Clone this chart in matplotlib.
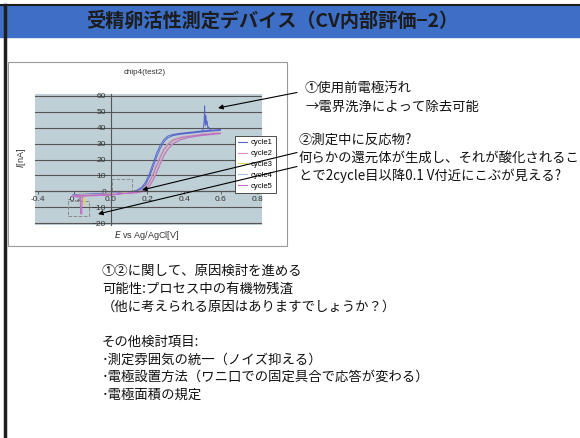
import matplotlib.pyplot as plt
from matplotlib.patches import Rectangle
from matplotlib.lines import Line2D

plt.rcParams['font.family'] = ['Noto Sans CJK JP', 'DejaVu Sans']

# --- CV data (E in V vs Ag/AgCl, I in nA) ---
e_fwd = [-0.21, -0.18, -0.15, -0.10, -0.05, 0.00, 0.05, 0.10, 0.14, 0.17, 0.19, 0.21,
         0.23, 0.25, 0.27, 0.29, 0.31, 0.34, 0.38, 0.42, 0.46, 0.50, 0.55, 0.60]
e_rev = e_fwd[::-1]

i_fwd_c1 = [-2.6, -2.4, -2.2, -2.0, -1.8, -1.6, -1.3, -0.9, 0.0, 1.8, 4.5, 9.0,
            15.0, 21.5, 27.0, 31.0, 33.5, 35.0, 35.8, 36.3, 36.8, 37.3, 37.8, 38.3]
i_rev_c1 = [38.8, 38.3, 37.9, 37.4, 36.9, 36.4, 35.7, 34.6, 32.5, 29.0, 24.0, 17.5,
            11.0, 6.0, 2.8, 0.6, -0.5, -0.9, -1.1, -1.3, -1.5, -1.7, -1.9, -2.1]

i_fwd_c2 = [-3.0, -2.8, -2.6, -2.4, -2.2, -2.0, -1.2, -0.6, -0.6, 0.2, 1.5, 4.0,
            8.0, 13.0, 18.5, 23.5, 27.0, 30.5, 32.8, 34.0, 34.8, 35.4, 36.0, 36.6]
i_rev_c2 = [37.0, 36.5, 36.0, 35.4, 34.8, 34.0, 32.6, 30.0, 27.0, 22.5, 17.0, 11.5,
            6.5, 3.0, 1.0, -0.2, -0.8, -1.2, -1.5, -1.7, -1.9, -2.1, -2.3, -2.5]

i_fwd_c3 = [-3.1, -2.9, -2.7, -2.5, -2.3, -2.1, -1.3, -0.7, -0.7, 0.0, 1.2, 3.6,
            7.5, 12.4, 18.0, 23.0, 26.6, 30.2, 32.6, 33.8, 34.6, 35.2, 35.8, 36.4]
i_rev_c3 = [36.8, 36.3, 35.8, 35.2, 34.6, 33.8, 32.3, 29.6, 26.5, 22.0, 16.5, 11.0,
            6.2, 2.8, 0.8, -0.3, -0.9, -1.3, -1.6, -1.8, -2.0, -2.2, -2.4, -2.6]

i_fwd_c4 = [-3.2, -3.0, -2.8, -2.6, -2.4, -2.2, -1.4, -0.8, -0.8, -0.1, 1.0, 3.3,
            7.2, 12.0, 17.6, 22.6, 26.3, 30.0, 32.4, 33.7, 34.5, 35.1, 35.7, 36.3]
i_rev_c4 = [36.7, 36.2, 35.7, 35.1, 34.5, 33.7, 32.1, 29.3, 26.2, 21.6, 16.2, 10.7,
            6.0, 2.6, 0.7, -0.4, -1.0, -1.4, -1.7, -1.9, -2.1, -2.3, -2.5, -2.7]

i_fwd_c5 = [-3.3, -3.1, -2.9, -2.7, -2.5, -2.3, -1.5, -0.9, -0.9, -0.2, 0.9, 3.1,
            7.0, 11.8, 17.3, 22.3, 26.1, 29.8, 32.3, 33.6, 34.4, 35.0, 35.6, 36.2]
i_rev_c5 = [36.6, 36.1, 35.6, 35.0, 34.4, 33.6, 32.0, 29.1, 26.0, 21.4, 16.0, 10.5,
            5.8, 2.5, 0.6, -0.5, -1.1, -1.5, -1.8, -2.0, -2.2, -2.4, -2.6, -2.8]

# spike on the first cycle plateau
e_spike_c1 = [0.50, 0.505, 0.51, 0.513, 0.516, 0.52, 0.523, 0.527, 0.53, 0.535, 0.54, 0.55]
i_spike_c1 = [37.9, 39.0, 44.0, 53.5, 41.0, 47.5, 42.0, 44.0, 39.5, 40.5, 38.6, 38.3]
# noise at the start of the scan
e_dip_c5 = [-0.20, -0.175, -0.168, -0.166, -0.160, -0.158, -0.15]
i_dip_c5 = [-3.2, -3.4, -3.6, -14.0, -14.0, -3.8, -3.3]
e_dip_c3 = [-0.148, -0.146, -0.144]
i_dip_c3 = [-4.4, -8.6, -4.6]

cycles = ['cycle1', 'cycle2', 'cycle3', 'cycle4', 'cycle5']
colors = ['#5565cc', '#e08cc4', '#e4d452', '#a4c0e2', '#c070c4']
fwd = [i_fwd_c1, i_fwd_c2, i_fwd_c3, i_fwd_c4, i_fwd_c5]
rev = [i_rev_c1, i_rev_c2, i_rev_c3, i_rev_c4, i_rev_c5]

title = '受精卵活性測定デバイス（CV内部評価−2）'
notes_right = ['①使用前電極汚れ', '→電界洗浄によって除去可能',
               '②測定中に反応物?', '何らかの還元体が生成し、それが酸化されるこ',
               'とで2cycle目以降0.1 V付近にこぶが見える?']
notes_bottom = ['①②に関して、原因検討を進める', '可能性:プロセス中の有機物残渣',
                '（他に考えられる原因はありますでしょうか？）', '',
                'その他検討項目:', '･測定雰囲気の統一（ノイズ抑える）',
                '･電極設置方法（ワニ口での固定具合で応答が変わる）', '･電極面積の規定']

W, H = 580, 438
fig = plt.figure(figsize=(5.8, 4.38), dpi=100)
chart_font = 'Liberation Sans'

# slide background, pixel coordinates
bg = fig.add_axes([0, 0, 1, 1], zorder=0)
bg.set_xlim(0, W)
bg.set_ylim(H, 0)
bg.axis('off')
bg.add_patch(Rectangle((0, 5), W, 32, color='#3d6fc6'))
bg.plot([0, W], [5, 5], color='#1e1e1e', lw=1.5)
bg.plot([4.5, 4.5], [5, H], color='#1e1e1e', lw=2.5)
bg.text(272, 21, title, ha='center', va='center', fontsize=13.8,
        fontweight='bold', color='#1c1c1c')

bg.add_patch(Rectangle((8, 62), 279, 184, facecolor='white', edgecolor='#9a9a9a', lw=0.8))
bg.text(145, 73, 'chip4(test2)', ha='center', va='center', fontsize=5.8,
        color='#333333', family=chart_font)
bg.text(21, 158, r'$I$[nA]', ha='center', va='center', rotation=90,
        fontsize=6.5, color='#333333', family=chart_font)
bg.text(147, 236, r'$E$ vs Ag/AgCl[V]', ha='center', va='center',
        fontsize=6.5, color='#333333', family=chart_font)

for txt, (x, y) in zip(notes_right, [(305, 88), (305, 106.5), (299, 140), (299, 158), (299, 176)]):
    bg.text(x, y, txt, ha='left', va='center', fontsize=9.6, color='#111111')
for k, txt in enumerate(notes_bottom):
    bg.text(102, 271 + k * 17.7, txt, ha='left', va='center', fontsize=9.6, color='#111111')

# chart
ax = fig.add_axes([35 / W, 1 - 225 / H, 227 / W, 131 / H], zorder=1)
ax.set_facecolor('#bfcfd6')
ax.set_xlim(-0.416, 0.827)
ax.set_ylim(-21.0, 61.0)
ax.set_xticks([-0.4, -0.2, 0.0, 0.2, 0.4, 0.6, 0.8])
ax.set_xticklabels(['-0.4', '-0.2', '0.0', '0.2', '0.4', '0.6', '0.8'])
ax.set_yticks(range(-20, 61, 10))
ax.yaxis.grid(True, color='#555555', lw=0.8)
ax.set_axisbelow(True)
for s in ['top', 'right']:
    ax.spines[s].set_visible(False)
ax.spines['left'].set_position(('data', 0))
ax.spines['bottom'].set_position(('data', 0))
ax.spines['left'].set_color('#555555')
ax.spines['bottom'].set_color('#555555')
ax.tick_params(labelsize=6, labelcolor='#333333', length=2, width=0.6,
               color='#555555', pad=1.5)
for t in ax.get_xticklabels() + ax.get_yticklabels():
    t.set_family(chart_font)

for name, col, f, r in zip(cycles, colors, fwd, rev):
    ax.plot(e_fwd + e_rev, f + r, color=col, lw=0.7, label=name)
ax.plot(e_spike_c1, i_spike_c1, color=colors[0], lw=0.7)
ax.plot(e_dip_c5, i_dip_c5, color=colors[4], lw=0.8)
ax.plot(e_dip_c3, i_dip_c3, color=colors[2], lw=0.9)

ax.add_patch(Rectangle((0.005, -1.0), 0.11, 8.5, fill=False, ls='--', ec='#8a8a8a', lw=0.7))
ax.add_patch(Rectangle((-0.235, -15.5), 0.115, 9.5, fill=False, ls='--', ec='#8a8a8a', lw=0.7))

handles = [Line2D([], [], color=c, lw=0.8) for c in colors]
leg = ax.legend(handles, cycles, loc='upper left', bbox_to_anchor=(235 / W, 1 - 136 / H),
                bbox_transform=fig.transFigure, fontsize=5.5, frameon=True, fancybox=False,
                edgecolor='#333333', framealpha=1, handlelength=1.2, borderpad=0.4,
                labelspacing=0.45, handletextpad=0.5, borderaxespad=0)
leg.get_frame().set_linewidth(0.6)
for t in leg.get_texts():
    t.set_family(chart_font)

# arrows from the notes into the chart
fg = fig.add_axes([0, 0, 1, 1], zorder=5)
fg.set_xlim(0, W)
fg.set_ylim(H, 0)
fg.axis('off')
fg.patch.set_alpha(0)
for tail, head in [((297, 92.5), (218, 108)), ((297, 152.5), (142, 190)), ((297, 166.5), (98, 214))]:
    fg.annotate('', xy=head, xytext=tail,
                arrowprops=dict(arrowstyle='-|>', color='black', lw=0.8,
                                mutation_scale=7, shrinkA=0, shrinkB=0))

fig.savefig('out.png', dpi=100)
